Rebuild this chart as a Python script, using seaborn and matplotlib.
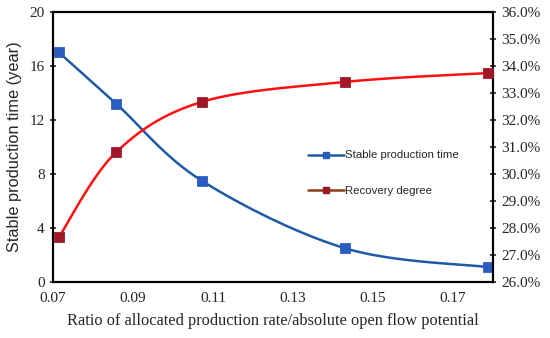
import numpy as np
import pandas as pd
import matplotlib
matplotlib.use("Agg")
import matplotlib.pyplot as plt
import seaborn as sns
from matplotlib.ticker import FuncFormatter
from matplotlib.lines import Line2D

# values
ratio = [0.0715, 0.0858, 0.1072, 0.1430, 0.1788]
stable_time = [17.0, 13.2, 7.5, 2.5, 1.1]
recovery = [27.67, 30.81, 32.67, 33.41, 33.74]
x_ticks = [0.07, 0.09, 0.11, 0.13, 0.15, 0.17]


def smooth(xs, ys, n=30):
    # Excel-like smoothed line: Bezier with control points from neighbours,
    # end points duplicated
    xs = np.asarray(xs, float)
    ys = np.asarray(ys, float)
    px = np.concatenate([[xs[0]], xs, [xs[-1]]])
    py = np.concatenate([[ys[0]], ys, [ys[-1]]])
    outx, outy = [], []
    t = np.linspace(0, 1, n)
    for i in range(1, len(px) - 2):
        for arr, out in ((px, outx), (py, outy)):
            p0, p1, p2, p3 = arr[i - 1], arr[i], arr[i + 1], arr[i + 2]
            c1 = p1 + (p2 - p0) / 6
            c2 = p2 - (p3 - p1) / 6
            b = (1 - t) ** 3 * p1 + 3 * (1 - t) ** 2 * t * c1 + 3 * (1 - t) * t ** 2 * c2 + t ** 3 * p2
            out.extend(b)
    return outx, outy


sns.set_style("white")
plt.rcParams["font.family"] = ["Liberation Serif", "DejaVu Serif"]

fig = plt.figure(figsize=(5.5, 3.38), dpi=100)
ax = fig.add_axes([0.0964, 0.1657, 0.8, 0.7988])
ax2 = ax.twinx()

blue_line = "#1F5AA6"
blue_mark = "#2A5CC0"
red_line = "#FF1010"
red_mark = "#A01828"

sx, sy = smooth(ratio, stable_time)
sns.lineplot(x=sx, y=sy, ax=ax, color=blue_line, lw=1.8, sort=False, legend=False)
sns.scatterplot(x=ratio, y=stable_time, ax=ax, color=blue_mark, marker="s", s=50,
                edgecolor=blue_mark, zorder=5, legend=False)

rx, ry = smooth(ratio, recovery)
sns.lineplot(x=rx, y=ry, ax=ax2, color=red_line, lw=1.8, sort=False, legend=False)
sns.scatterplot(x=ratio, y=recovery, ax=ax2, color=red_mark, marker="s", s=50,
                edgecolor=red_mark, zorder=5, legend=False)

ax.set_xlim(0.07, 0.18)
ax.set_ylim(0, 20)
ax2.set_ylim(26, 36)
ax.set_xticks(x_ticks)
ax.set_xticklabels([f"{v:.2f}" for v in x_ticks])
ax.set_yticks([0, 4, 8, 12, 16, 20])
ax2.set_yticks(np.arange(26, 36.5, 1))
ax2.yaxis.set_major_formatter(FuncFormatter(lambda v, p: f"{v:.1f}%"))

for a in (ax, ax2):
    for s in a.spines.values():
        s.set_color("black")
        s.set_linewidth(1.5)
ax.tick_params(axis="x", direction="in", length=4, width=1.2, labelsize=11, pad=7)
ax.tick_params(axis="y", direction="inout", length=5, width=1.2, labelsize=11, left=True)
ax2.tick_params(axis="y", direction="inout", length=5, width=1.2, labelsize=11, right=True)

ax.set_xlabel("Ratio of allocated production rate/absolute open flow potential",
              fontsize=11.8, labelpad=6)
ax.set_ylabel("Stable production time (year)", fontsize=11.8,
              family=["Liberation Sans", "DejaVu Sans"], labelpad=5)

handles = [
    Line2D([], [], color=blue_line, lw=1.8, marker="s", markersize=4.5, markerfacecolor=blue_mark,
           markeredgecolor=blue_mark),
    Line2D([], [], color="#8B3A1A", lw=1.8, marker="s", markersize=4.5, markerfacecolor=red_mark,
           markeredgecolor=red_mark),
]
ax.legend(handles, ["Stable production time", "Recovery degree"], loc="upper left",
          bbox_to_anchor=(0.556, 0.525), frameon=False, labelspacing=2.25, handlelength=3.2,
          handletextpad=0.1, prop={"family": ["Liberation Sans", "DejaVu Sans"], "size": 8.2})

fig.savefig("out.png", dpi=100)
